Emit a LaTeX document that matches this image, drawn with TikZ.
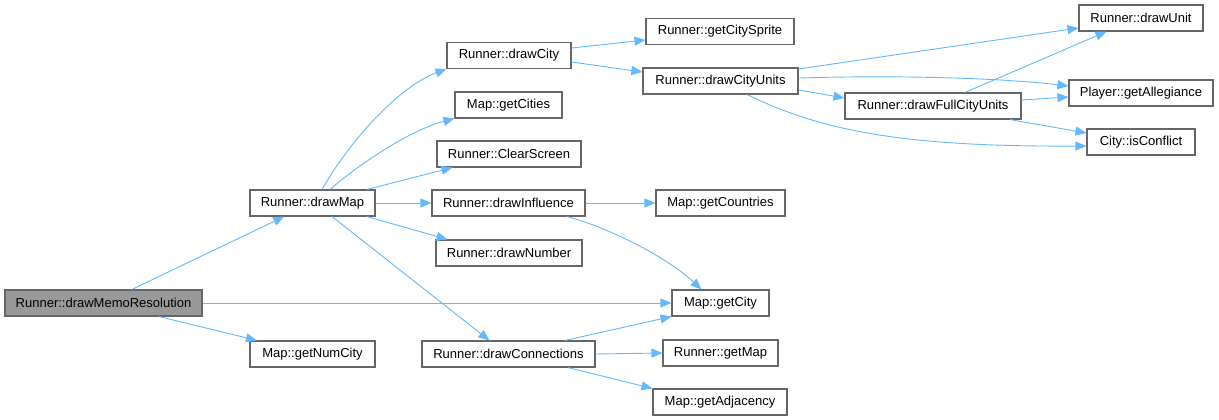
\documentclass[tikz,border=0pt]{standalone}
\usepackage{fontspec}
\setmainfont{Liberation Sans}
\usetikzlibrary{arrows.meta}
\definecolor{edgeblue}{HTML}{63B8FF}
\definecolor{boxgray}{HTML}{666666}
\definecolor{rootfill}{HTML}{999999}
\tikzset{
  fn/.style={draw=boxgray, line width=1.1pt, fill=white, inner sep=0pt, minimum height=26pt,
    font=\fontsize{13}{15}\selectfont, text=black},
  rootfn/.style={fn, fill=rootfill},
  call/.style={draw=edgeblue, line width=0.9pt, -{Triangle[length=11pt,width=9pt]}},
}
\begin{document}
\begin{tikzpicture}[x=1pt,y=-1pt]
\useasboundingbox (0,0) rectangle (1219,420);
% nodes
\node[rootfn, minimum width=197pt] (mr) at (103.5,303) {Runner::drawMemoResolution};
\node[fn, minimum width=125pt] (dm) at (312.5,203) {Runner::drawMap};
\node[fn, minimum width=125pt] (gnc) at (312.5,354) {Map::getNumCity};
\node[fn, minimum width=124pt] (dc) at (509,55.5) {Runner::drawCity};
\node[fn, minimum width=148pt] (gcs) at (720,31.5) {Runner::getCitySprite};
\node[fn, minimum width=155pt] (dcu) at (720.5,81) {Runner::drawCityUnits};
\node[fn, minimum width=107pt] (gcities) at (508.5,105) {Map::getCities};
\node[fn, minimum width=144pt] (cs) at (509,154) {Runner::ClearScreen};
\node[fn, minimum width=153pt] (di) at (508.5,203) {Runner::drawInfluence};
\node[fn, minimum width=129pt] (gco) at (720.5,203) {Map::getCountries};
\node[fn, minimum width=146pt] (dn) at (509,253) {Runner::drawNumber};
\node[fn, minimum width=97pt] (gcity) at (720.5,303) {Map::getCity};
\node[fn, minimum width=173pt] (dconn) at (508.5,354) {Runner::drawConnections};
\node[fn, minimum width=115pt] (gmap) at (720.5,353) {Runner::getMap};
\node[fn, minimum width=134pt] (gadj) at (720,402) {Map::getAdjacency};
\node[fn, minimum width=124pt] (du) at (1141,18) {Runner::drawUnit};
\node[fn, minimum width=144pt] (ga) at (1141,93) {Player::getAllegiance};
\node[fn, minimum width=176pt] (dfcu) at (933,106) {Runner::drawFullCityUnits};
\node[fn, minimum width=108pt] (ic) at (1141,142) {City::isConflict};
% edges
\draw[call] (mr) -- (dm);
\draw[call] (mr.east) -- (gcity.west);
\draw[call] (mr) -- (gnc);
\draw[call] ([xshift=9.5pt]dm.north) .. controls (350,140) and (400,86) .. (dc.south west);
\draw[call] ([xshift=17.5pt]dm.north) .. controls (358,165) and (410,130) .. (gcities.south west);
\draw[call] ([xshift=54.5pt]dm.north) -- ([xshift=16pt]cs.south west);
\draw[call] (dm.east) -- (di.west);
\draw[call] ([xshift=54.5pt]dm.south) -- ([xshift=12pt]dn.north west);
\draw[call] ([xshift=19.5pt]dm.south) -- ([xshift=68pt]dconn.north west);
\draw[call] ([yshift=7.5pt]dc.east) -- ([yshift=-8.5pt]gcs.west);
\draw[call] ([yshift=-6.5pt]dc.east) -- ([yshift=9pt]dcu.west);
\draw[call] ([yshift=12pt]dcu.east) -- ([yshift=-10pt]du.west);
\draw[call] ([yshift=3pt]dcu.east) .. controls (900,75) and (1000,78) .. ([yshift=7pt]ga.west);
\draw[call] ([yshift=-9pt]dcu.east) -- ([yshift=8pt]dfcu.west);
\draw[call] ([xshift=26.5pt]dcu.south) .. controls (820,130) and (900,147) .. ([yshift=-4pt]ic.west);
\draw[call] ([xshift=32pt]dfcu.north) -- ([xshift=28pt]du.south west);
\draw[call] ([yshift=6pt]dfcu.east) -- ([yshift=-4pt]ga.west);
\draw[call] ([xshift=77pt]dfcu.south) -- ([yshift=9pt]ic.west);
\draw[call] (di.east) -- (gco.west);
\draw[call] ([xshift=58.5pt]di.south) .. controls (610,228) and (668,258) .. ([xshift=30pt]gcity.north west);
\draw[call] ([xshift=56.5pt]dconn.north) -- (gcity.south west);
\draw[call] (dconn.east) -- (gmap.west);
\draw[call] ([xshift=59.5pt]dconn.south) -- (gadj.north west);
\end{tikzpicture}
\end{document}
